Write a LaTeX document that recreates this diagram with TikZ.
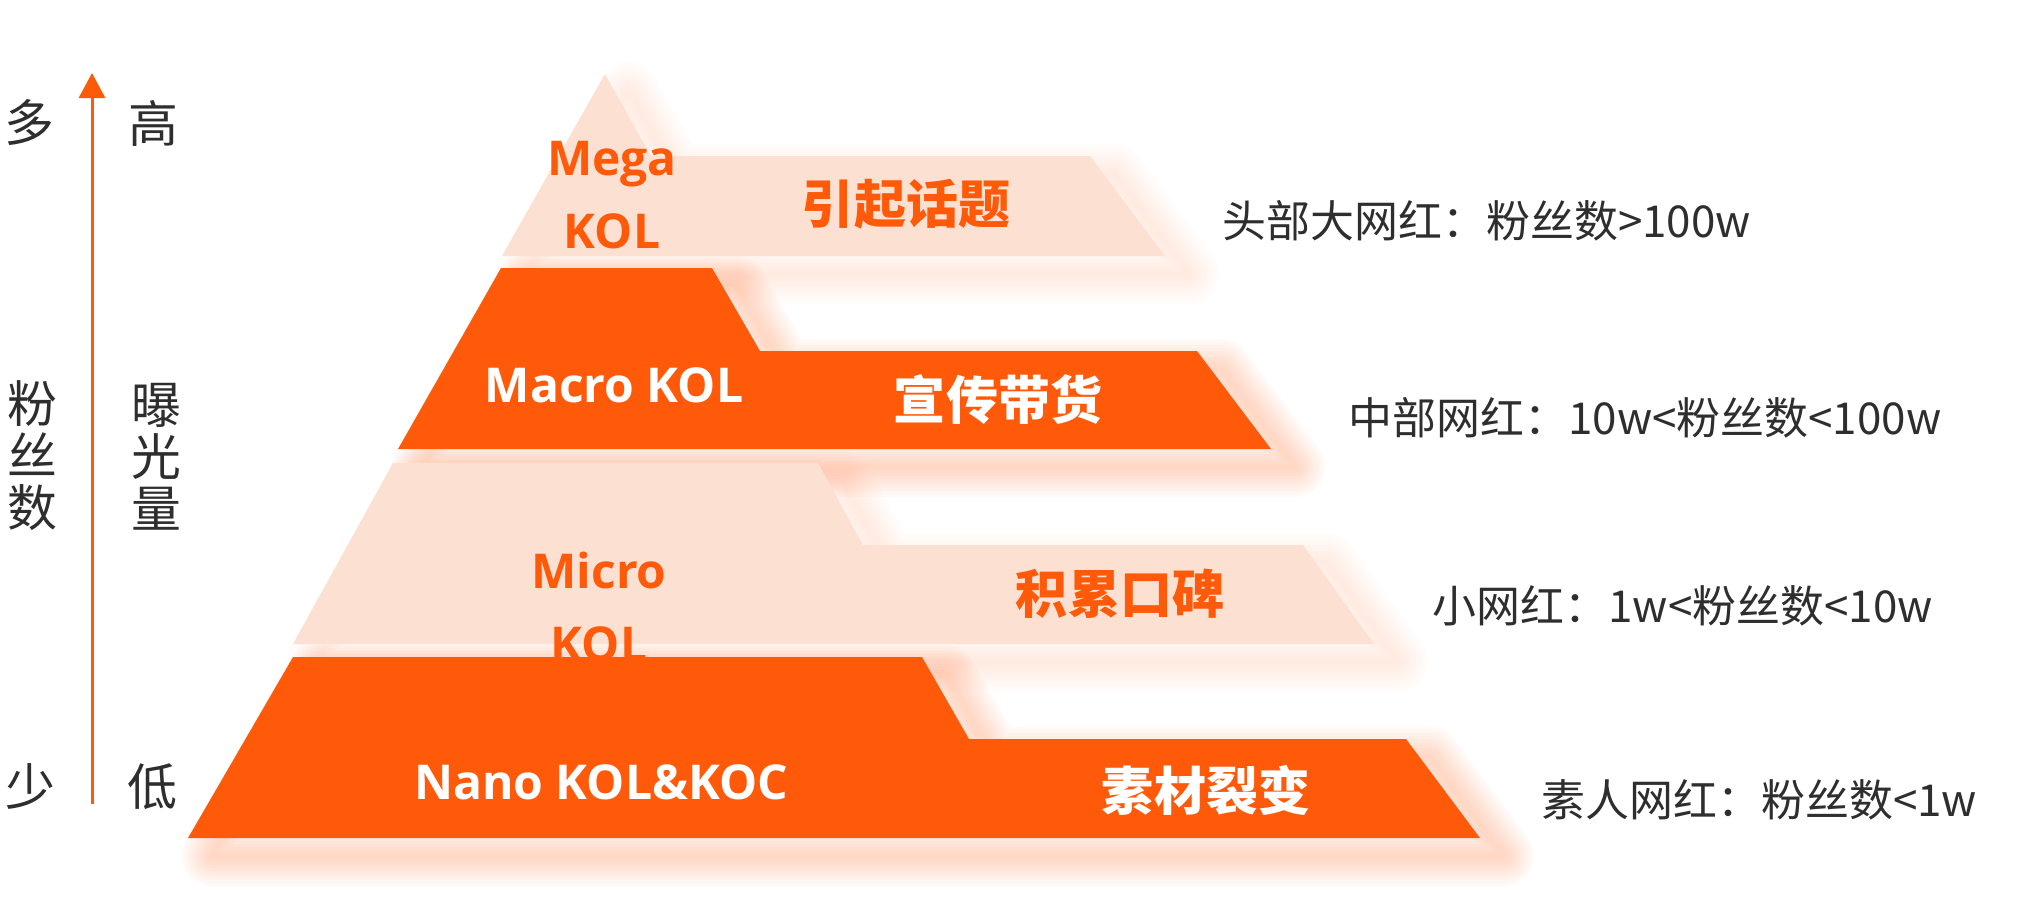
\documentclass[tikz,border=0pt]{standalone}
\usepackage{fontspec}
\setmainfont{Noto Sans CJK SC}
\newfontfamily\opensans{Open Sans}
\usetikzlibrary{arrows.meta}

\definecolor{kolorange}{HTML}{FF5A0A}
\definecolor{kolpink}{HTML}{FCE1D3}
\definecolor{kolglow}{HTML}{FF8A50}
\definecolor{labelgray}{HTML}{2E2E2E}

% outlines of the four layers, in pixels
\newcommand\megashape{(605,74) -- (651,156) -- (1090,156) -- (1165,256) -- (502,256) -- cycle}
\newcommand\macroshape{(501,268) -- (712,268) -- (760,351) -- (1197,351) -- (1271,449) -- (398,449) -- cycle}
\newcommand\microshape{(393,463) -- (818,463) -- (863,545) -- (1303,545) -- (1374,644) -- (293,644) -- cycle}
\newcommand\nanoshape{(293,657) -- (922,657) -- (969,739) -- (1406,739) -- (1480,838) -- (188,838) -- cycle}

\tikzset{
  darklayer/.style={fill=kolorange},
  lightlayer/.style={fill=kolpink},
  glowdark/.style={draw=kolglow, opacity=0.035, line join=round},
  glowlight/.style={draw=kolglow, opacity=0.015, line join=round},
  latinname/.style={font=\opensans\bfseries\fontsize{13.66}{21}\selectfont, align=center, inner sep=0pt},
  cjkrole/.style={font=\bfseries\fontsize{14.8}{17}\selectfont, inner sep=0pt},
  fanslabel/.style={font=\fontsize{12.5}{15}\selectfont, text=labelgray, anchor=west, inner sep=0pt},
  axislabel/.style={font=\fontsize{14.2}{14.8}\selectfont, text=labelgray, align=center, inner sep=0pt},
  axisarrow/.style={draw=kolorange, line width=0.3mm, -{Triangle[width=2.6mm,length=2.5mm]}},
}

\begin{document}
\begin{tikzpicture}[x=0.1mm, y=-0.1mm]
    \fill[white] (0,0) rectangle (2020,922);
    \useasboundingbox (0,0) rectangle (2020,922);

    % soft glow behind the layers, thrown to the lower right
    \foreach \w in {60,54,...,6}{
        \draw[glowlight, line width=\w*0.1mm, shift={(24,18)}] \megashape;
        \draw[glowdark, line width=\w*0.1mm, shift={(24,18)}] \macroshape;
        \draw[glowlight, line width=\w*0.1mm, shift={(24,18)}] \microshape;
        \draw[glowdark, line width=\w*0.1mm, shift={(24,18)}] \nanoshape;
    }

    % layers
    \fill[lightlayer] \megashape;
    \node[latinname, text=kolorange] (mega) at (612,195) {Mega\\KOL};
    \node[cjkrole, text=kolorange] (megarole) at (906,204) {引起话题};

    \fill[darklayer] \macroshape;
    \node[latinname, text=white] (macro) at (614,385) {Macro KOL};
    \node[cjkrole, text=white] (macrorole) at (998,400) {宣传带货};

    \fill[lightlayer] \microshape;
    \node[latinname, text=kolorange] (micro) at (599,607) {Micro\\KOL};
    \node[cjkrole, text=kolorange] (microrole) at (1120,594) {积累口碑};

    \fill[darklayer] \nanoshape;
    \node[latinname, text=white] (nano) at (601,782) {Nano KOL\&KOC};
    \node[cjkrole, text=white] (nanorole) at (1206,790) {素材裂变};

    % fan counts
    \node[fanslabel] (megafans) at (1222,221) {头部大网红：粉丝数>100w};
    \node[fanslabel] (macrofans) at (1348,418) {中部网红：10w<粉丝数<100w};
    \node[fanslabel] (microfans) at (1432,606) {小网红：1w<粉丝数<10w};
    \node[fanslabel] (nanofans) at (1541,800) {素人网红：粉丝数<1w};

    % axis
    \coordinate (axisbot) at (92,804);
    \coordinate (axistop) at (92,73);
    \draw[axisarrow] (axisbot) -- (axistop);
    \node[axislabel] (many) at (29,123) {多};
    \node[axislabel] (high) at (153,123) {高};
    \node[axislabel] (fans) at (32,456) {粉\\丝\\数};
    \node[axislabel] (exposure) at (156,457) {曝\\光\\量};
    \node[axislabel] (few) at (30,786) {少};
    \node[axislabel] (low) at (152,787) {低};
\end{tikzpicture}
\end{document}
